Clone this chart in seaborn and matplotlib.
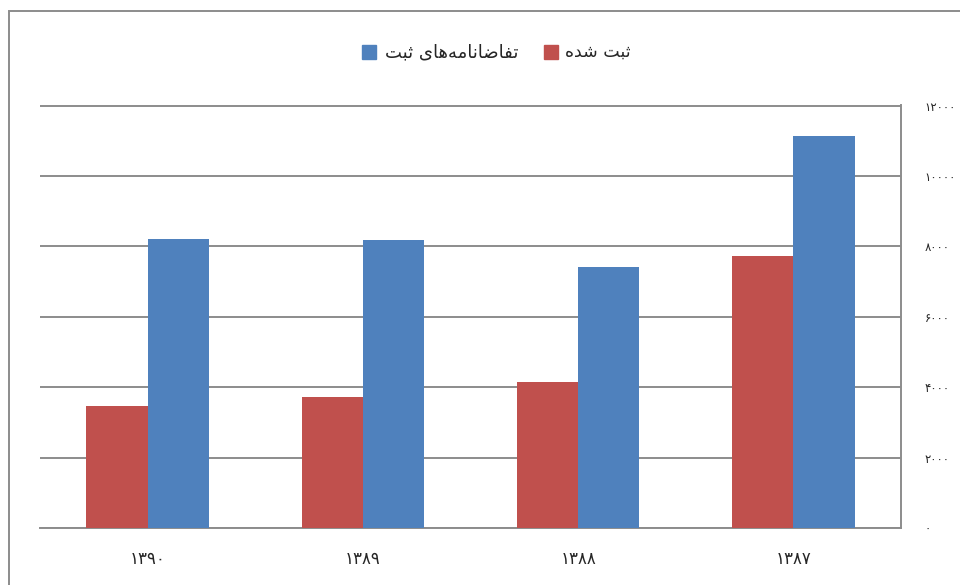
import numpy as np
import pandas as pd
import matplotlib.pyplot as plt
import seaborn as sns
from matplotlib.patches import Rectangle

# data
years = ["۱۳۹۰", "۱۳۸۹", "۱۳۸۸", "۱۳۸۷"]
registered = [3470, 3730, 4150, 7740]      # ثبت شده
applications = [8220, 8170, 7420, 11150]   # تقاضانامه‌های ثبت
yticks = [0, 2000, 4000, 6000, 8000, 10000, 12000]
ytick_labels = ["۰", "۲۰۰۰", "۴۰۰۰", "۶۰۰۰", "۸۰۰۰", "۱۰۰۰۰", "۱۲۰۰۰"]

# labels in presentation forms, visual order (matplotlib does no arabic shaping)
lbl_reg = "\uFEE9\uFEAA\uFEB7 \uFE96\uFE92\uFE9B"
lbl_app = ("\uFE96\uFE92\uFE9B \uFEEF\uFE8E\uFEEB\uFEEA\uFEE3\uFE8E"
           "\uFEE7\uFE8E\uFEBF\uFE8E\uFED4\uFE97")

cols = ["#C0504D", "#4F81BD"]

df = pd.DataFrame({
    "year": years * 2,
    "value": registered + applications,
    "series": ["reg"] * 4 + ["app"] * 4,
})

sns.set_style("white")
plt.rcParams["font.family"] = ["DejaVu Sans"]

fig = plt.figure(figsize=(9.6, 5.85), dpi=100)
ax = fig.add_axes([40 / 960, 1 - 528 / 585, 861 / 960, 423 / 585])

sns.barplot(data=df, x="year", y="value", hue="series", palette=cols,
            width=0.57, gap=0, saturation=1, legend=False, ax=ax, zorder=3,
            linewidth=0)

ax.set_ylim(0, 12020)
ax.set_xlim(-0.5, 3.5)
ax.set_yticks(yticks)
ax.set_yticklabels(ytick_labels, ha="left")
ax.yaxis.tick_right()
ax.tick_params(axis="y", length=0, pad=17, labelsize=8.5)
ax.tick_params(axis="x", length=0, pad=16, labelsize=12)
ax.set_xlabel("")
ax.set_ylabel("")
ax.grid(axis="y", color="#8c8c8c", linewidth=1.4, zorder=0)
for side in ["left", "top"]:
    ax.spines[side].set_visible(False)
for side in ["right", "bottom"]:
    ax.spines[side].set_color("#8c8c8c")
    ax.spines[side].set_linewidth(1.4)

# frame around the chart
fig.patches.append(Rectangle((9 / 960, -0.05), 1.0, 1 - 11 / 585 + 0.05,
                             transform=fig.transFigure, fill=False,
                             edgecolor="#8c8c8c", linewidth=1.4))

# legend, drawn by hand to keep the original order
fig.patches.append(Rectangle((362 / 960, 1 - 59 / 585), 14 / 960, 14 / 585,
                             transform=fig.transFigure, color=cols[1]))
fig.text(385 / 960, 1 - 52 / 585, lbl_app, ha="left", va="center", fontsize=13)
fig.text(631 / 960, 1 - 52 / 585, lbl_reg, ha="right", va="center", fontsize=12.5)
fig.patches.append(Rectangle((544 / 960, 1 - 59 / 585), 14 / 960, 14 / 585,
                             transform=fig.transFigure, color=cols[0]))

fig.savefig("out.png", dpi=100)
